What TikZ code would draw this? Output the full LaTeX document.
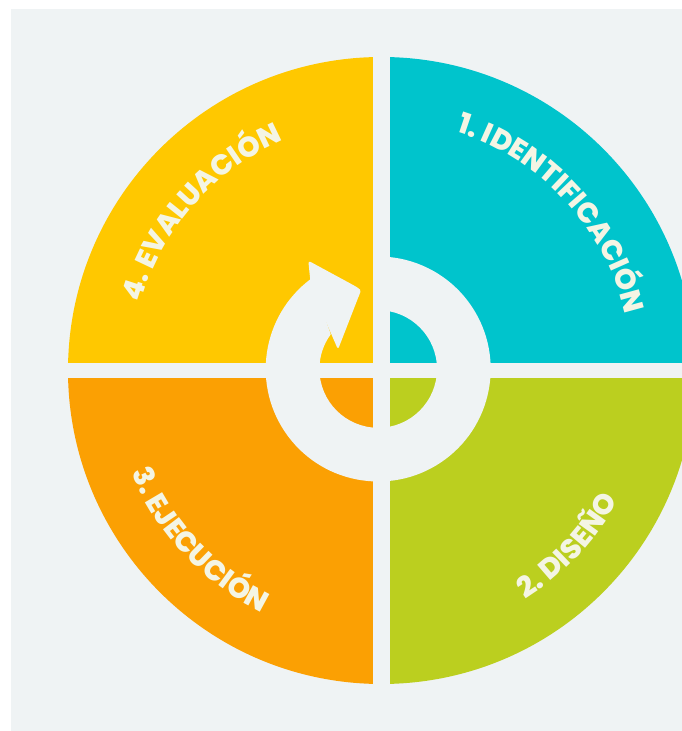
\documentclass[tikz,border=0pt]{standalone}
\usepackage{fontspec}
\setmainfont{Poppins}
\newfontfamily\lblfam{Poppins}[UprightFont={* ExtraBold}]
\usetikzlibrary{decorations.text}
\definecolor{bg}{HTML}{EFF3F4}
\definecolor{qcyan}{HTML}{00C4CC}
\definecolor{qyel}{HTML}{FFC800}
\definecolor{qorg}{HTML}{FBA003}
\definecolor{qgrn}{HTML}{BBCF1F}
\definecolor{tc}{HTML}{F4F5E4}
\newcommand\lblfont{\lblfam\fontsize{28.5}{28.5}\selectfont}
\tikzset{
  lbl/.style={decorate, decoration={text along path, text align=center, text color=tc, text={|\lblfont|#1}}}
}
\begin{document}
\begin{tikzpicture}[x=1pt,y=1pt]
\useasboundingbox (0,0) rectangle (682,731);
\clip (0,0) rectangle (682,731);
\fill[bg] (11,0) rectangle (682,722);
\coordinate (O) at (381.5,360.5);
\coordinate (R) at (378.2,362);
% quadrants
\begin{scope}
\clip (O) circle[radius=313.5];
\fill[qcyan] (390,367.7) rectangle (700,700);
\fill[qyel] (0,367.7) rectangle (373.3,700);
\fill[qorg] (0,0) rectangle (373.3,353.3);
\fill[qgrn] (390,0) rectangle (700,353.3);
\end{scope}
% ring with arrow
\fill[bg] ([shift={(126.6:112.5)}]R) arc[start angle=126.6, end angle=450, radius=112.5]
  -- ([shift={(90:58.8)}]R) arc[start angle=450, end angle=143.8, radius=58.8] -- cycle;
\coordinate (G) at (312.5,428.8);
\coordinate (A) at (308.3,470.3);
\coordinate (B) at (350,447.7);
\coordinate (T) at (361.5,441.3);
\coordinate (C) at (358.3,433.7);
\coordinate (I) at (338,381.5);
\coordinate (F) at (322.3,417.7);
\fill[bg, rounded corners=2.5pt] (G) -- (A) -- (B) .. controls (T) .. (C) -- (I) -- (F) -- cycle;
% labels
\path[lbl={1. IDENTIFICACIÓN}] ([shift={(87.7:250)}]O) arc[start angle=87.7, end angle=-2.3, radius=250];
\path[lbl={4. EVALUACIÓN}] ([shift={(183.7:250)}]O) arc[start angle=183.7, end angle=93.7, radius=250];
\path[lbl={3. EJECUCIÓN}] ([shift={(178:270)}]O) arc[start angle=178, end angle=268, radius=270];
\path[lbl={2. DISEÑO}] ([shift={(271.7:270)}]O) arc[start angle=271.7, end angle=361.7, radius=270];
\end{tikzpicture}
\end{document}
